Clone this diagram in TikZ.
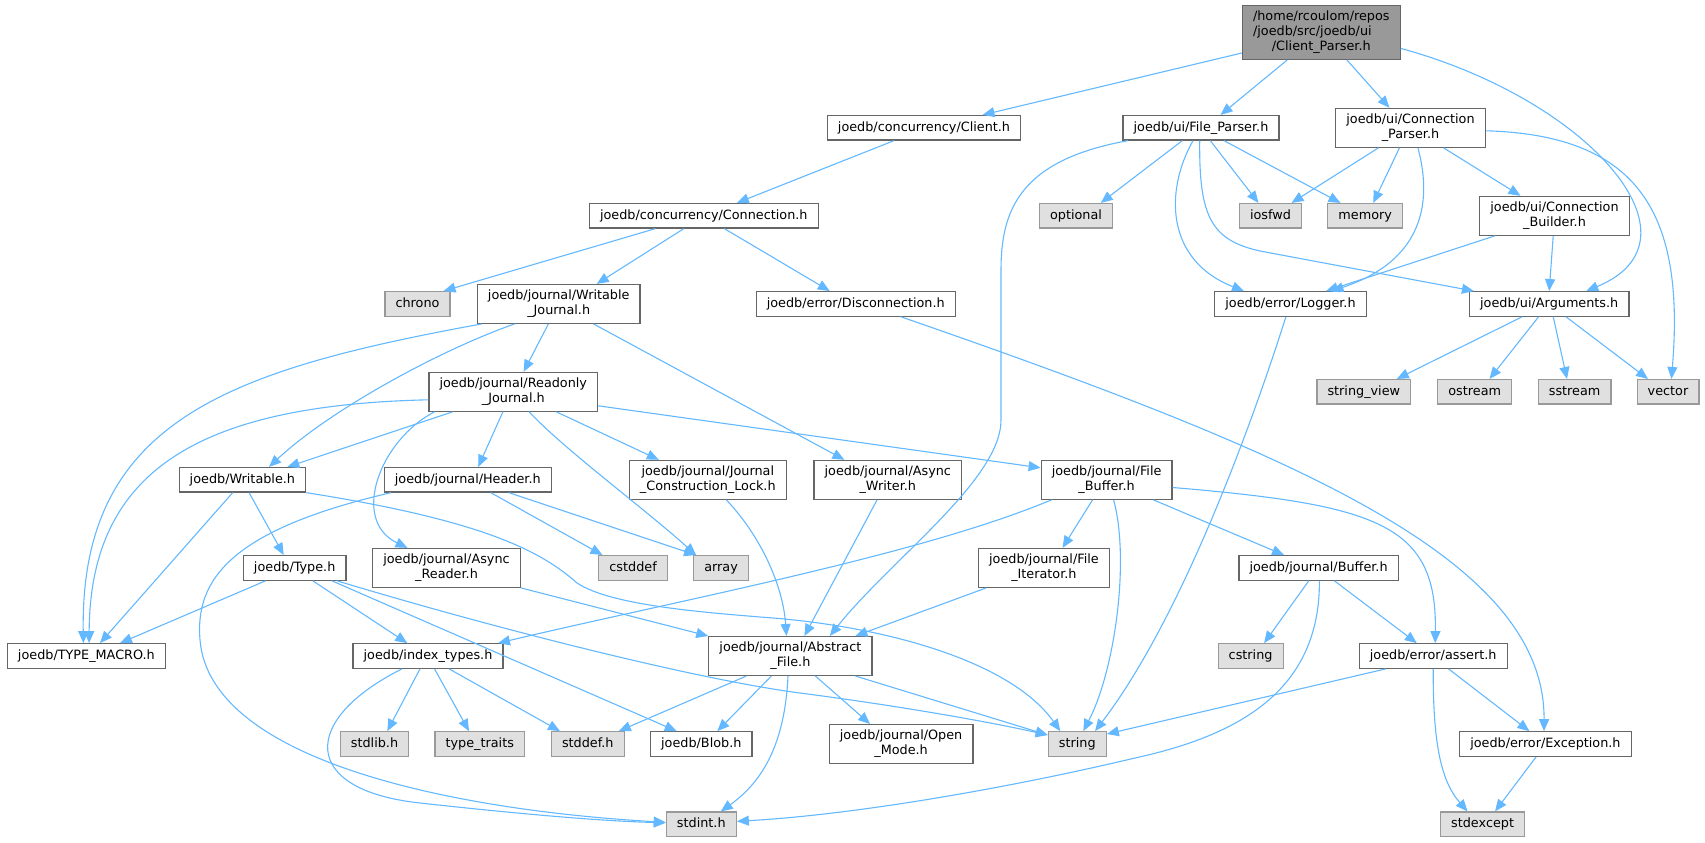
\documentclass[tikz,border=0pt]{standalone}
\usepackage{fontspec}
\setmainfont{DejaVu Sans}
\usepackage{tikz}
\usetikzlibrary{arrows.meta}
\definecolor{edgeblue}{HTML}{63B8FF}
\definecolor{hdrline}{HTML}{666666}
\definecolor{sysline}{HTML}{999999}
\definecolor{sysfill}{HTML}{E0E0E0}
\definecolor{rootfill}{HTML}{999999}

\begin{document}
\begin{tikzpicture}[x=1pt,y=-1pt]
\tikzset{incl/.style={rectangle,line width=1.2pt,inner xsep=10.6pt,inner ysep=3pt,font=\fontsize{12.8pt}{15pt}\selectfont}}
\tikzset{hdr/.style={incl,draw=hdrline,fill=white,text height=9.7pt,text depth=3pt,minimum height=24.5pt}}
\tikzset{sys/.style={incl,draw=sysline,fill=sysfill,text height=9.7pt,text depth=3pt,minimum height=24.5pt}}
\tikzset{hdrtwo/.style={incl,draw=hdrline,fill=white,align=center,minimum height=38.8pt}}
\tikzset{rootbox/.style={incl,draw=hdrline,fill=rootfill,minimum height=53.8pt}}
\tikzset{dep/.style={draw=edgeblue,line width=1.1pt,-{Triangle[length=12pt,width=10pt]}}}
\useasboundingbox (0,0) rectangle (1705,843);

\node[rootbox] (root) at (1321.3,32.4) {\begin{tabular}{@{}l@{}}/home/rcoulom/repos\\/joedb/src/joedb/ui\\\multicolumn{1}{@{}c@{}}{/Client\_Parser.h}\end{tabular}};
\node[hdr] (client) at (924,127.8) {joedb/concurrency/Client.h};
\node[hdr] (fileparser) at (1201,127.8) {joedb/ui/File\_Parser.h};
\node[hdrtwo] (connparser) at (1410.5,127.8) {joedb/ui/Connection\\\_Parser.h};
\node[hdr] (connection) at (703.8,215.8) {joedb/concurrency/Connection.h};
\node[sys] (optional) at (1076,215.8) {optional};
\node[sys] (iosfwd) at (1270.5,215.8) {iosfwd};
\node[sys] (memory) at (1365.2,215.8) {memory};
\node[hdrtwo] (connbuilder) at (1554.5,215.8) {joedb/ui/Connection\\\_Builder.h};
\node[sys] (chrono) at (417.5,303.9) {chrono};
\node[hdrtwo] (wjournal) at (558.7,303.9) {joedb/journal/Writable\\\_Journal.h};
\node[hdr] (disconnection) at (855.8,303.9) {joedb/error/Disconnection.h};
\node[hdr] (logger) at (1290.5,303.9) {joedb/error/Logger.h};
\node[hdr] (arguments) at (1549.2,303.9) {joedb/ui/Arguments.h};
\node[hdrtwo] (rjournal) at (513.3,391.8) {joedb/journal/Readonly\\\_Journal.h};
\node[sys] (stringview) at (1363.8,391.8) {string\_view};
\node[sys] (ostream) at (1474.7,391.8) {ostream};
\node[sys] (sstream) at (1574.6,391.8) {sstream};
\node[sys] (vector) at (1668,391.8) {vector};
\node[hdr] (writable) at (242.4,479.8) {joedb/Writable.h};
\node[hdr] (header) at (467.8,479.8) {joedb/journal/Header.h};
\node[hdrtwo] (clock) at (707.8,479.8) {joedb/journal/Journal\\\_Construction\_Lock.h};
\node[hdrtwo] (awriter) at (887.8,479.8) {joedb/journal/Async\\\_Writer.h};
\node[hdrtwo] (filebuffer) at (1106.6,479.8) {joedb/journal/File\\\_Buffer.h};
\node[hdr] (type) at (294.7,567.9) {joedb/Type.h};
\node[hdrtwo] (areader) at (446.5,567.9) {joedb/journal/Async\\\_Reader.h};
\node[sys] (cstddef) at (633.1,567.9) {cstddef};
\node[sys] (array) at (721.1,567.9) {array};
\node[hdrtwo] (fileiter) at (1043.9,567.9) {joedb/journal/File\\\_Iterator.h};
\node[hdr] (buffer) at (1318.6,567.9) {joedb/journal/Buffer.h};
\node[hdr] (typemacro) at (86.4,656) {joedb/TYPE\_MACRO.h};
\node[hdr] (indextypes) at (428,656) {joedb/index\_types.h};
\node[hdrtwo] (absfile) at (790.4,656) {joedb/journal/Abstract\\\_File.h};
\node[sys] (cstring) at (1250.6,656) {cstring};
\node[hdr] (assert) at (1433.2,656) {joedb/error/assert.h};
\node[sys] (stdlib) at (374.5,744) {stdlib.h};
\node[sys] (typetraits) at (479.8,744) {type\_traits};
\node[sys] (stddef) at (587.8,744) {stddef.h};
\node[hdr] (blob) at (701.3,744) {joedb/Blob.h};
\node[hdrtwo] (openmode) at (901.1,744) {joedb/journal/Open\\\_Mode.h};
\node[sys] (string) at (1077.3,744) {string};
\node[hdr] (exception) at (1545.4,744) {joedb/error/Exception.h};
\node[sys] (stdint) at (701.3,824.3) {stdint.h};
\node[sys] (stdexcept) at (1482.6,824.3) {stdexcept};

\draw[dep] ([yshift=-20.6pt]root.west) -- ([xshift=58.5pt]client.north);
\draw[dep] ([xshift=-34pt]root.south) -- ([xshift=19.5pt]fileparser.north);
\draw[dep] ([xshift=25.6pt]root.south) -- ([xshift=-21pt]connparser.north);
\draw[dep] ([yshift=-16pt]root.east) .. controls (1590,100) and (1710,240) .. ([xshift=37pt]arguments.north);
\draw[dep] ([xshift=-30pt]client.south) -- ([xshift=33pt]connection.north);
\draw[dep] ([xshift=-48.5pt]connection.south) -- ([xshift=26pt]chrono.north);
\draw[dep] ([xshift=-20pt]connection.south) -- ([xshift=38pt]wjournal.north);
\draw[dep] ([xshift=20.6pt]connection.south) -- ([xshift=-26pt]disconnection.north);
\draw[dep] ([xshift=45pt]disconnection.south) .. controls (1300,455) and (1545,560) .. ([xshift=-1.4pt]exception.north);
\draw[dep] ([xshift=-18.7pt]fileparser.south) -- ([xshift=24.7pt]optional.north);
\draw[dep] ([xshift=-73pt]fileparser.south) .. controls (1020,160) and (1001,210) .. (1001,270) -- (1001,420) .. controls (1001,480) and (890,560) .. ([xshift=39.4pt]absfile.north);
\draw[dep] ([xshift=-8pt]fileparser.south) .. controls (1165,190) and (1165,260) .. ([xshift=-46.5pt]logger.north);
\draw[dep] ([xshift=-1.3pt]fileparser.south) .. controls (1199,215) and (1210,240) .. (1260,251) -- ([xshift=5pt]arguments.north west);
\draw[dep] ([xshift=9.3pt]fileparser.south) -- ([xshift=-12pt]iosfwd.north);
\draw[dep] ([xshift=23pt]fileparser.south) -- ([xshift=-24.7pt]memory.north);
\draw[dep] ([xshift=-32pt]connparser.south) -- ([xshift=21pt]iosfwd.north);
\draw[dep] ([xshift=-11pt]connparser.south) -- ([xshift=8pt]memory.north);
\draw[dep] ([xshift=7.4pt]connparser.south) .. controls (1432,200) and (1425,260) .. ([xshift=41pt]logger.north);
\draw[dep] ([xshift=33pt]connparser.south) -- ([xshift=-34pt]connbuilder.north);
\draw[dep] ([yshift=-3pt]connparser.east) .. controls (1640,135) and (1685,215) .. ([xshift=3.4pt]vector.north);
\draw[dep] ([xshift=-59.5pt]connbuilder.south) -- ([xshift=35.5pt]logger.north);
\draw[dep] ([xshift=-1.3pt]connbuilder.south) -- (arguments.north);
\draw[dep] ([xshift=-4.6pt]logger.south) .. controls (1250,430) and (1180,620) .. ([xshift=17.7pt]string.north);
\draw[dep] ([xshift=-27pt]arguments.south) -- ([xshift=33pt]stringview.north);
\draw[dep] ([xshift=-10.6pt]arguments.south) -- ([xshift=14.8pt]ostream.north);
\draw[dep] ([xshift=4pt]arguments.south) -- ([xshift=-7.6pt]sstream.north);
\draw[dep] ([xshift=16.7pt]arguments.south) -- ([xshift=-20pt]vector.north);
\draw[dep] ([xshift=-77pt]wjournal.south) .. controls (230,370) and (80,420) .. ([xshift=-3pt]typemacro.north);
\draw[dep] ([xshift=-44pt]wjournal.south) .. controls (440,350) and (330,410) .. ([xshift=26.6pt]writable.north);
\draw[dep] ([xshift=-10.3pt]wjournal.south) -- ([xshift=10.3pt]rjournal.north);
\draw[dep] ([xshift=34.8pt]wjournal.south) -- ([xshift=-43.4pt]awriter.north);
\draw[dep] ([yshift=-8pt]rjournal.west) .. controls (200,405) and (90,470) .. ([xshift=2.7pt]typemacro.north);
\draw[dep] ([xshift=-60.6pt]rjournal.south) -- ([xshift=45pt]writable.north);
\draw[dep] ([xshift=-78.8pt]rjournal.south) .. controls (380,440) and (350,520) .. ([xshift=-39pt]areader.north);
\draw[dep] ([xshift=-10.4pt]rjournal.south) -- ([xshift=10.4pt]header.north);
\draw[dep] ([xshift=15.8pt]rjournal.south) .. controls (565,450) and (640,505) .. ([xshift=3pt]array.north west);
\draw[dep] ([xshift=43pt]rjournal.south) -- ([xshift=-49pt]clock.north);
\draw[dep] ([yshift=-14pt]rjournal.east) -- ([yshift=-8pt]filebuffer.north west);
\draw[dep] ([xshift=23pt]header.south) -- ([xshift=-30.6pt]cstddef.north);
\draw[dep] ([xshift=41pt]header.south) -- ([xshift=3pt]array.north west);
\draw[dep] ([xshift=-76.8pt]header.south) .. controls (230,530) and (195,580) .. (200,640) .. controls (210,760) and (450,810) .. ([yshift=2pt]stdint.west);
\draw[dep] ([xshift=-9.7pt]writable.south) -- ([xshift=13.6pt]typemacro.north);
\draw[dep] ([xshift=6.7pt]writable.south) -- ([xshift=-11pt]type.north);
\draw[dep] (writable.south east) .. controls (480,520) and (540,550) .. (577,583) .. controls (610,605) and (700,612) .. (760,617) .. controls (880,625) and (1010,660) .. ([xshift=-17pt]string.north);
\draw[dep] ([xshift=-29pt]type.south) -- ([xshift=33.6pt]typemacro.north);
\draw[dep] ([xshift=18pt]type.south) -- ([xshift=-20.7pt]indextypes.north);
\draw[dep] ([xshift=37pt]type.south) -- ([xshift=-24.6pt]blob.north);
\draw[dep] ([xshift=42pt]type.south) .. controls (500,630) and (700,680) .. (800,693) .. controls (900,706) and (990,722) .. ([yshift=9pt]string.west);
\draw[dep] ([xshift=-8pt]indextypes.south) -- ([xshift=12.8pt]stdlib.north);
\draw[dep] ([xshift=6.5pt]indextypes.south) -- ([xshift=-10.8pt]typetraits.north);
\draw[dep] ([xshift=21pt]indextypes.south) -- ([xshift=-27.8pt]stddef.north);
\draw[dep] ([xshift=-26pt]indextypes.south) .. controls (300,720) and (300,790) .. (420,803) .. controls (520,814) and (600,821) .. ([yshift=1.5pt]stdint.west);
\draw[dep] (areader.south east) -- (absfile.north west);
\draw[dep] ([xshift=-44pt]absfile.south) -- ([xshift=31pt]stddef.north);
\draw[dep] ([xshift=-19pt]absfile.south) -- ([xshift=16pt]blob.north);
\draw[dep] ([xshift=-2.4pt]absfile.south) .. controls (785,740) and (765,780) .. ([xshift=19.4pt]stdint.north);
\draw[dep] ([xshift=25pt]absfile.south) -- ([xshift=-31pt]openmode.north);
\draw[dep] ([xshift=65pt]absfile.south) -- ([yshift=9pt]string.west);
\draw[dep] ([xshift=18.4pt]clock.south) .. controls (760,535) and (783,585) .. ([xshift=-4pt]absfile.north);
\draw[dep] ([xshift=-10.7pt]awriter.south) -- ([xshift=14pt]absfile.north);
\draw[dep] ([xshift=-55pt]filebuffer.south) .. controls (920,555) and (680,600) .. ([xshift=70pt]indextypes.north);
\draw[dep] ([xshift=-14pt]filebuffer.south) -- ([xshift=18.6pt]fileiter.north);
\draw[dep] ([xshift=7pt]filebuffer.south) .. controls (1130,560) and (1115,670) .. ([xshift=6pt]string.north);
\draw[dep] ([xshift=46.6pt]filebuffer.south) -- ([xshift=-34.5pt]buffer.north);
\draw[dep] ([yshift=-7.7pt]filebuffer.east) .. controls (1380,505) and (1437,525) .. ([xshift=2pt]assert.north);
\draw[dep] ([xshift=-57.7pt]fileiter.south) -- ([xshift=65pt]absfile.north);
\draw[dep] ([xshift=-9.8pt]buffer.south) -- ([xshift=13.5pt]cstring.north);
\draw[dep] ([xshift=15.7pt]buffer.south) -- ([xshift=-16.4pt]assert.north);
\draw[dep] ([xshift=0.8pt]buffer.south) .. controls (1320,690) and (1240,735) .. (1135,758) .. controls (1000,790) and (850,815) .. ([yshift=3pt]stdint.east);
\draw[dep] ([xshift=-47.3pt]assert.south) -- ([yshift=10pt]string.east);
\draw[dep] ([xshift=15.3pt]assert.south) -- ([xshift=-16pt]exception.north);
\draw[dep] (assert.south) .. controls (1433,740) and (1440,780) .. ([xshift=-15pt]stdexcept.north);
\draw[dep] ([xshift=-9.3pt]exception.south) -- ([xshift=12.4pt]stdexcept.north);
\end{tikzpicture}
\end{document}
